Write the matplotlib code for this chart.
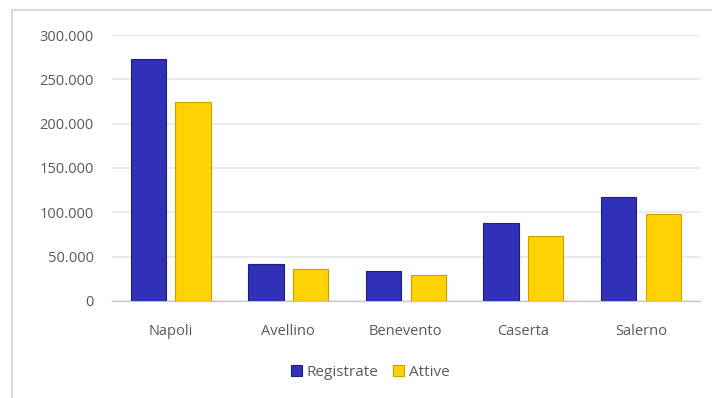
import matplotlib.pyplot as plt
import numpy as np
from matplotlib.ticker import FuncFormatter
from matplotlib.patches import Rectangle

province = ['Napoli', 'Avellino', 'Benevento', 'Caserta', 'Salerno']
registrate = [273000, 42000, 34000, 88000, 117000]
attive = [224000, 36000, 29000, 73000, 98000]

plt.rcParams['font.family'] = ['Open Sans', 'DejaVu Sans']

fig = plt.figure(figsize=(7.12, 3.98), dpi=100)
ax = fig.add_axes([0.157, 0.244, 0.826, 0.668])

# cornice grigia del grafico
fig.patches.append(Rectangle((12 / 712, -0.05), 1.0, 1 - 10 / 398 + 0.05,
                             transform=fig.transFigure, fill=False,
                             edgecolor='#d9d9d9', linewidth=1.5))

x = np.arange(len(province))
w = 0.3
ax.bar(x - 0.19, registrate, w, color='#3131b8', edgecolor='#1e1e80',
       linewidth=0.8, label='Registrate', zorder=3)
ax.bar(x + 0.19, attive, w, color='#ffd200', edgecolor='#c8a000',
       linewidth=0.8, label='Attive', zorder=3)

ax.set_xlim(-0.5, 4.5)
ax.set_ylim(0, 300000)
ax.set_yticks(range(0, 300001, 50000))
ax.yaxis.set_major_formatter(FuncFormatter(lambda v, p: f'{int(v):,}'.replace(',', '.')))
ax.set_xticks(x)
ax.set_xticklabels(province)
ax.grid(axis='y', color='#e6e6e6', linewidth=1.2, zorder=0)
for s in ['top', 'right', 'left']:
    ax.spines[s].set_visible(False)
ax.spines['bottom'].set_color('#c0c4d8')
ax.tick_params(length=0, labelsize=10.5, labelcolor='#595959')
ax.tick_params(axis='x', pad=17)
ax.tick_params(axis='y', pad=13)

fig.legend(loc='center', bbox_to_anchor=(0.52, 0.065), ncol=2, frameon=False,
           fontsize=11, labelcolor='#595959', handlelength=0.7, handleheight=0.7,
           columnspacing=1.0, handletextpad=0.3)

plt.savefig('out.png', dpi=100)
